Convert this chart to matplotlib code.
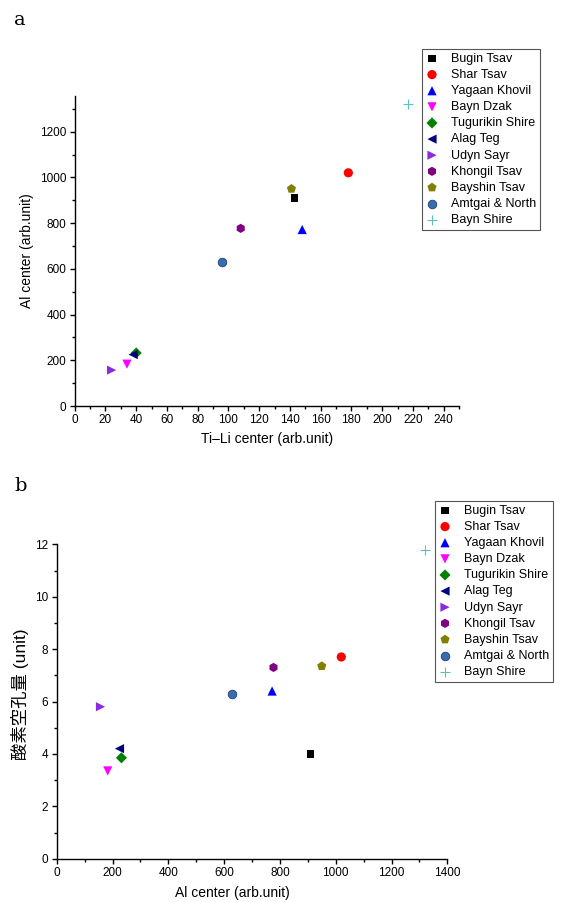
import matplotlib
matplotlib.use("Agg")
import matplotlib.pyplot as plt
from matplotlib.ticker import MultipleLocator

plt.rcParams['font.family'] = ['Liberation Sans', 'Noto Sans CJK JP', 'DejaVu Sans']

sites = ["Bugin Tsav", "Shar Tsav", "Yagaan Khovil", "Bayn Dzak", "Tugurikin Shire",
         "Alag Teg", "Udyn Sayr", "Khongil Tsav", "Bayshin Tsav", "Amtgai & North", "Bayn Shire"]
ti_li = [143, 178, 148, 34, 40, 38, 24, 108, 141, 96, 217]
al = [910, 1020, 772, 183, 232, 225, 157, 777, 950, 630, 1320]
vacancy = [4.0, 7.7, 6.4, 3.35, 3.85, 4.2, 5.8, 7.3, 7.35, 6.3, 11.8]

colors = ["#000000", "#ff0000", "#0000ff", "#ff00ff", "#008000", "#000080",
          "#8a2be2", "#800080", "#808000", "#3a6db0", "#5fbfbf"]
markers = ["s", "o", "^", "v", "D", "<", ">", "h", "p", "o", "+"]
sizes = [30, 44, 44, 44, 32, 44, 44, 44, 48, 38, 48]

W, H = 567, 902
fig = plt.figure(figsize=(W / 100, H / 100), dpi=100)


def box(l, t, r, b):
    return [l / W, 1 - b / H, (r - l) / W, (b - t) / H]


def style(ax, xmaj, xmin, ymaj, ymin):
    for s in ("top", "right"):
        ax.spines[s].set_visible(False)
    for s in ("left", "bottom"):
        ax.spines[s].set_linewidth(1.0)
    ax.xaxis.set_major_locator(MultipleLocator(xmaj))
    ax.xaxis.set_minor_locator(MultipleLocator(xmin))
    ax.yaxis.set_major_locator(MultipleLocator(ymaj))
    ax.yaxis.set_minor_locator(MultipleLocator(ymin))
    ax.tick_params(which="major", direction="out", length=3.5, width=1, labelsize=8.5, pad=2.5)
    ax.tick_params(which="minor", direction="out", length=2.5, width=1)


def draw(ax, xs, ys):
    for name, x, y, c, m, s in zip(sites, xs, ys, colors, markers, sizes):
        if m == "+":
            ax.scatter([x], [y], marker=m, s=s, c=c, linewidths=0.8, label=name, clip_on=False)
        elif name == "Amtgai & North":
            ax.scatter([x], [y], marker=m, s=s, c=c, edgecolors="#1f3f70", linewidths=0.6,
                       label=name, clip_on=False)
        else:
            ax.scatter([x], [y], marker=m, s=s, c=c, edgecolors="none", label=name, clip_on=False)


legend_kw = dict(loc="upper left", fontsize=9, frameon=True, fancybox=False,
                 edgecolor="#555555", framealpha=1, handlelength=1.0, handletextpad=1.0,
                 borderpad=0.3, labelspacing=0.33, borderaxespad=0, scatterpoints=1)

# Panel a
ax1 = fig.add_axes(box(74.7, 96, 459, 406))
draw(ax1, ti_li, al)
ax1.set_xlim(0, 250)
ax1.set_ylim(0, 1356)
style(ax1, 20, 10, 200, 100)
ax1.set_xlabel("Ti\u2013Li center (arb.unit)", fontsize=10)
ax1.set_ylabel("Al center (arb.unit)", fontsize=10)
ax1.xaxis.set_label_coords(0.5, -0.085)
ax1.yaxis.set_label_coords(-0.105, 0.5)
leg1 = ax1.legend(bbox_to_anchor=(422 / W, 1 - 49 / H), bbox_transform=fig.transFigure, **legend_kw)
leg1.get_frame().set_linewidth(0.8)
fig.text(14 / W, 1 - 20 / H, "a", fontsize=14, family="DejaVu Serif", va="center", ha="left")

# Panel b
ax2 = fig.add_axes(box(56.7, 544.3, 447.3, 858.7))
draw(ax2, al, vacancy)
ax2.set_xlim(0, 1400)
ax2.set_ylim(0, 12)
style(ax2, 200, 100, 2, 1)
ax2.set_xlabel("Al center (arb.unit)", fontsize=10)
ax2.set_ylabel("酸素空孔量 (unit)", fontsize=12.5)
ax2.xaxis.set_label_coords(0.45, -0.088)
ax2.yaxis.set_label_coords(-0.07, 0.524)
leg2 = ax2.legend(bbox_to_anchor=(435 / W, 1 - 501 / H), bbox_transform=fig.transFigure, **legend_kw)
leg2.get_frame().set_linewidth(0.8)
fig.text(14 / W, 1 - 486 / H, "b", fontsize=14, family="DejaVu Serif", va="center", ha="left")

fig.savefig("out.png", dpi=100)
